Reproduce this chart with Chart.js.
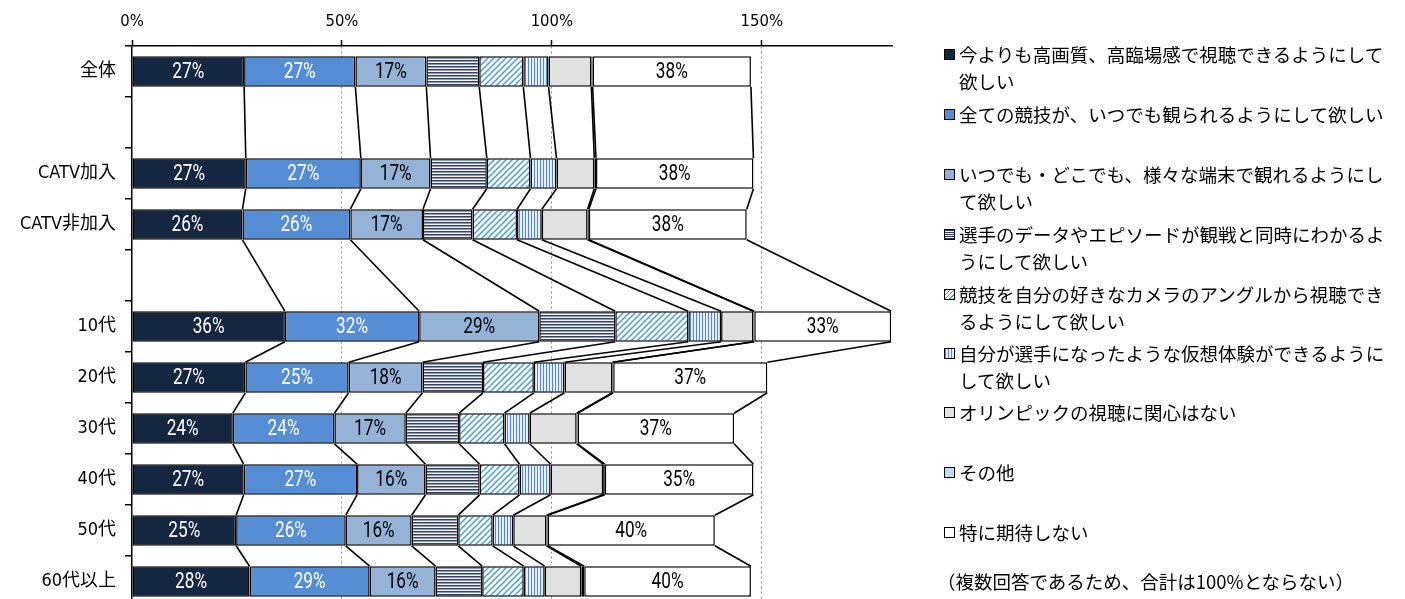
<!DOCTYPE html>
<html lang="ja">
<head>
<meta charset="utf-8">
<script src="https://cdn.jsdelivr.net/npm/chart.js@4.4.1/dist/chart.umd.min.js"></script>
<style>
  html, body { margin: 0; padding: 0; background: #fff; overflow: hidden; }
  #wrap { position: absolute; left: 0; top: 0; width: 1405px; height: 607px; }
  #legend { position: absolute; left: 0; top: 0; width: 1405px; height: 599px; pointer-events: none;
            font-family: "Noto Sans CJK JP", sans-serif; font-size: 18.5px; color: #000; }
  .item { position: absolute; left: 944px; line-height: 27px; }
  .mk { position: absolute; left: 0; top: 8px; width: 9px; height: 9px; border: 1px solid #000; }
  .tx { position: absolute; left: 15px; white-space: nowrap; }
  .note { position: absolute; left: 937px; top: 568px; line-height: 27px; white-space: nowrap; }
</style>
</head>
<body>
<div id="wrap"><canvas id="c" width="1405" height="607"></canvas></div>
<div id="legend"></div>
<script>
// Row labels (blank strings are spacer rows)
const categories = ['全体', '', 'CATV加入', 'CATV非加入', '', '10代', '20代', '30代', '40代', '50代', '60代以上'];

// Series names (legend lines are wrapped where the text breaks)
const seriesNames = [
  ['今よりも高画質、高臨場感で視聴できるようにして', '欲しい'],
  ['全ての競技が、いつでも観られるようにして欲しい'],
  ['いつでも・どこでも、様々な端末で観れるようにし', 'て欲しい'],
  ['選手のデータやエピソードが観戦と同時にわかるよ', 'うにして欲しい'],
  ['競技を自分の好きなカメラのアングルから視聴でき', 'るようにして欲しい'],
  ['自分が選手になったような仮想体験ができるように', 'して欲しい'],
  ['オリンピックの視聴に関心はない'],
  ['その他'],
  ['特に期待しない']
];

// Percent values per series, in row order
const highQuality   = [26.7, null, 27.1, 26.3, null, 36.4, 27.0, 24.0, 26.6, 24.8, 28.0];
const allEvents     = [26.5, null, 27.4, 25.7, null, 32.0, 24.6, 24.2, 27.0, 26.1, 28.6];
const anyDevice     = [16.9, null, 16.6, 17.3, null, 28.6, 17.6, 17.0, 16.3, 15.7, 15.7];
const playerData    = [12.6, null, 13.4, 11.8, null, 18.1, 14.4, 12.7, 12.9, 11.1, 11.1];
const cameraAngle   = [10.5, null, 10.4, 10.6, null, 17.4, 12.1, 10.8,  9.5,  8.2,  9.9];
const virtualPlayer = [ 6.0, null,  6.2,  5.9, null,  7.8,  7.3,  6.0,  7.4,  4.9,  5.0];
const notInterested = [10.2, null,  9.0, 10.9, null,  7.7, 11.4, 11.2, 12.5,  7.9,  8.7];
const otherAnswer   = [ 0.3, null,  0.4,  0.3, null,  0.2,  0.2,  0.2,  0.4,  0.3,  0.7];
const noExpectation = [37.7, null, 37.5, 37.6, null, 32.6, 36.7, 37.3, 35.4, 39.8, 39.7];

// X axis tick values
const xTicks = [0, 50, 100, 150];

const seriesValues = [highQuality, allEvents, anyDevice, playerData, cameraAngle,
                      virtualPlayer, notInterested, otherAnswer, noExpectation];

const canvas = document.getElementById('c');
const ctx = canvas.getContext('2d');

function tile(w, h, draw) {
  const t = document.createElement('canvas');
  t.width = w; t.height = h;
  draw(t.getContext('2d'), w, h);
  return ctx.createPattern(t, 'repeat');
}
const hLines = tile(4, 3, (g, w, h) => {
  g.fillStyle = '#f0f2f6'; g.fillRect(0, 0, w, h);
  g.fillStyle = '#34435d'; g.fillRect(0, 0, w, 1.5);
});
const diagLines = tile(6, 6, (g, w, h) => {
  g.fillStyle = '#ffffff'; g.fillRect(0, 0, w, h);
  g.strokeStyle = '#3f9be0'; g.lineWidth = 1.4;
  g.beginPath();
  g.moveTo(0, 6); g.lineTo(6, 0);
  g.moveTo(-1, 1); g.lineTo(1, -1);
  g.moveTo(5, 7); g.lineTo(7, 5);
  g.stroke();
});
const vLines = tile(3, 3, (g, w, h) => {
  g.fillStyle = '#e8eff9'; g.fillRect(0, 0, w, h);
  g.fillStyle = '#4f89d2'; g.fillRect(0, 0, 1, h);
});

const fills = ['#142640', '#558ed5', '#95b3d7', hLines, diagLines, vLines, '#e1e1e1', '#c6d9f1', '#ffffff'];
const legendCss = [
  '#142640', '#558ed5', '#95b3d7',
  'repeating-linear-gradient(to bottom, #2f3e58 0 1px, #eef1f5 1px 2px)',
  'repeating-linear-gradient(135deg, #3f9be0 0 1px, #fff 1px 3px)',
  'repeating-linear-gradient(to right, #4f89d2 0 1px, #e8eff9 1px 3px)',
  '#e1e1e1', '#c6d9f1', '#ffffff'
];

const axisFont = '"DejaVu Sans Condensed", "Noto Sans CJK JP", sans-serif';

// Connector lines between the segment ends of consecutive non-empty rows
const seriesLines = {
  id: 'seriesLines',
  afterDatasetsDraw(chart) {
    const c = chart.ctx;
    c.save();
    c.strokeStyle = '#000';
    c.lineWidth = 1.6;
    chart.data.datasets.forEach((ds, d) => {
      const meta = chart.getDatasetMeta(d);
      let prev = -1;
      ds.data.forEach((v, i) => {
        if (v === null) return;
        if (prev >= 0) {
          const a = meta.data[prev], b = meta.data[i];
          c.beginPath();
          c.moveTo(a.x, a.y + a.height / 2);
          c.lineTo(b.x, b.y - b.height / 2);
          c.stroke();
        }
        prev = i;
      });
    });
    c.restore();
  }
};

// Value labels for the first three series and the last one (narrow set text)
const valueLabels = {
  id: 'valueLabels',
  afterDatasetsDraw(chart) {
    const c = chart.ctx;
    const shown = { 0: '#ffffff', 1: '#ffffff', 2: '#000000', 8: '#000000' };
    const squeeze = 0.8;
    c.save();
    c.font = '21.5px Roboto, "Noto Sans", sans-serif';
    c.textAlign = 'center';
    c.textBaseline = 'middle';
    Object.keys(shown).forEach(k => {
      const d = +k;
      const meta = chart.getDatasetMeta(d);
      chart.data.datasets[d].data.forEach((v, i) => {
        if (v === null) return;
        const el = meta.data[i];
        c.save();
        c.translate((el.x + el.base) / 2, el.y + 1);
        c.scale(squeeze, 1);
        c.fillStyle = shown[k];
        c.fillText(Math.round(v) + '%', 0, 0);
        c.restore();
      });
    });
    c.restore();
  }
};

new Chart(ctx, {
  type: 'bar',
  data: {
    labels: categories,
    datasets: seriesValues.map((vals, k) => ({
      label: seriesNames[k].join(''),
      data: vals,
      backgroundColor: fills[k],
      borderColor: '#000',
      borderWidth: 1.5,
      borderSkipped: false,
      barPercentage: 0.6,
      categoryPercentage: 1
    }))
  },
  options: {
    indexAxis: 'y',
    responsive: false,
    animation: false,
    devicePixelRatio: 1,
    layout: { padding: { left: 0, right: 513, top: 0, bottom: 0 } },
    plugins: { legend: { display: false }, tooltip: { enabled: false } },
    scales: {
      x: {
        position: 'top',
        stacked: true,
        min: 0,
        max: 181,
        afterBuildTicks(scale) { scale.ticks = xTicks.map(v => ({ value: v })); },
        afterFit(scale) { scale.height = 46; scale.paddingLeft = 0; scale.paddingRight = 0; },
        ticks: {
          includeBounds: false,
          padding: 8,
          color: '#000',
          font: { family: axisFont, size: 16.5 },
          callback: v => v + '%'
        },
        grid: {
          color: c => (c.tick && c.tick.value === 0 ? 'rgba(0,0,0,0)' : '#8c8c8c'),
          lineWidth: 1,
          tickColor: '#000',
          tickLength: 6,
          tickWidth: 1.5
        },
        border: { display: true, color: '#000', width: 1.5, dash: [2, 3] }
      },
      y: {
        stacked: true,
        afterFit(scale) { scale.width = 132; scale.paddingTop = 0; scale.paddingBottom = 0; },
        ticks: {
          padding: 9,
          color: '#000',
          font: { family: axisFont, size: 18 }
        },
        grid: {
          offset: true,
          drawOnChartArea: false,
          color: '#000',
          tickLength: 7,
          lineWidth: 1.5
        },
        border: { display: true, color: '#000', width: 1.5 }
      }
    }
  },
  plugins: [seriesLines, valueLabels]
});

// Legend beside the plot
const legendTops = [41, 101, 161, 221, 281, 340, 399, 459, 519];
const legend = document.getElementById('legend');
seriesNames.forEach((lines, k) => {
  const item = document.createElement('div');
  item.className = 'item';
  item.style.top = legendTops[k] + 'px';
  const mk = document.createElement('div');
  mk.className = 'mk';
  mk.style.background = legendCss[k];
  item.appendChild(mk);
  const tx = document.createElement('div');
  tx.className = 'tx';
  tx.innerHTML = lines.join('<br>');
  item.appendChild(tx);
  legend.appendChild(item);
});
const note = document.createElement('div');
note.className = 'note';
note.textContent = '（複数回答であるため、合計は100%とならない）';
legend.appendChild(note);
</script>
</body>
</html>
